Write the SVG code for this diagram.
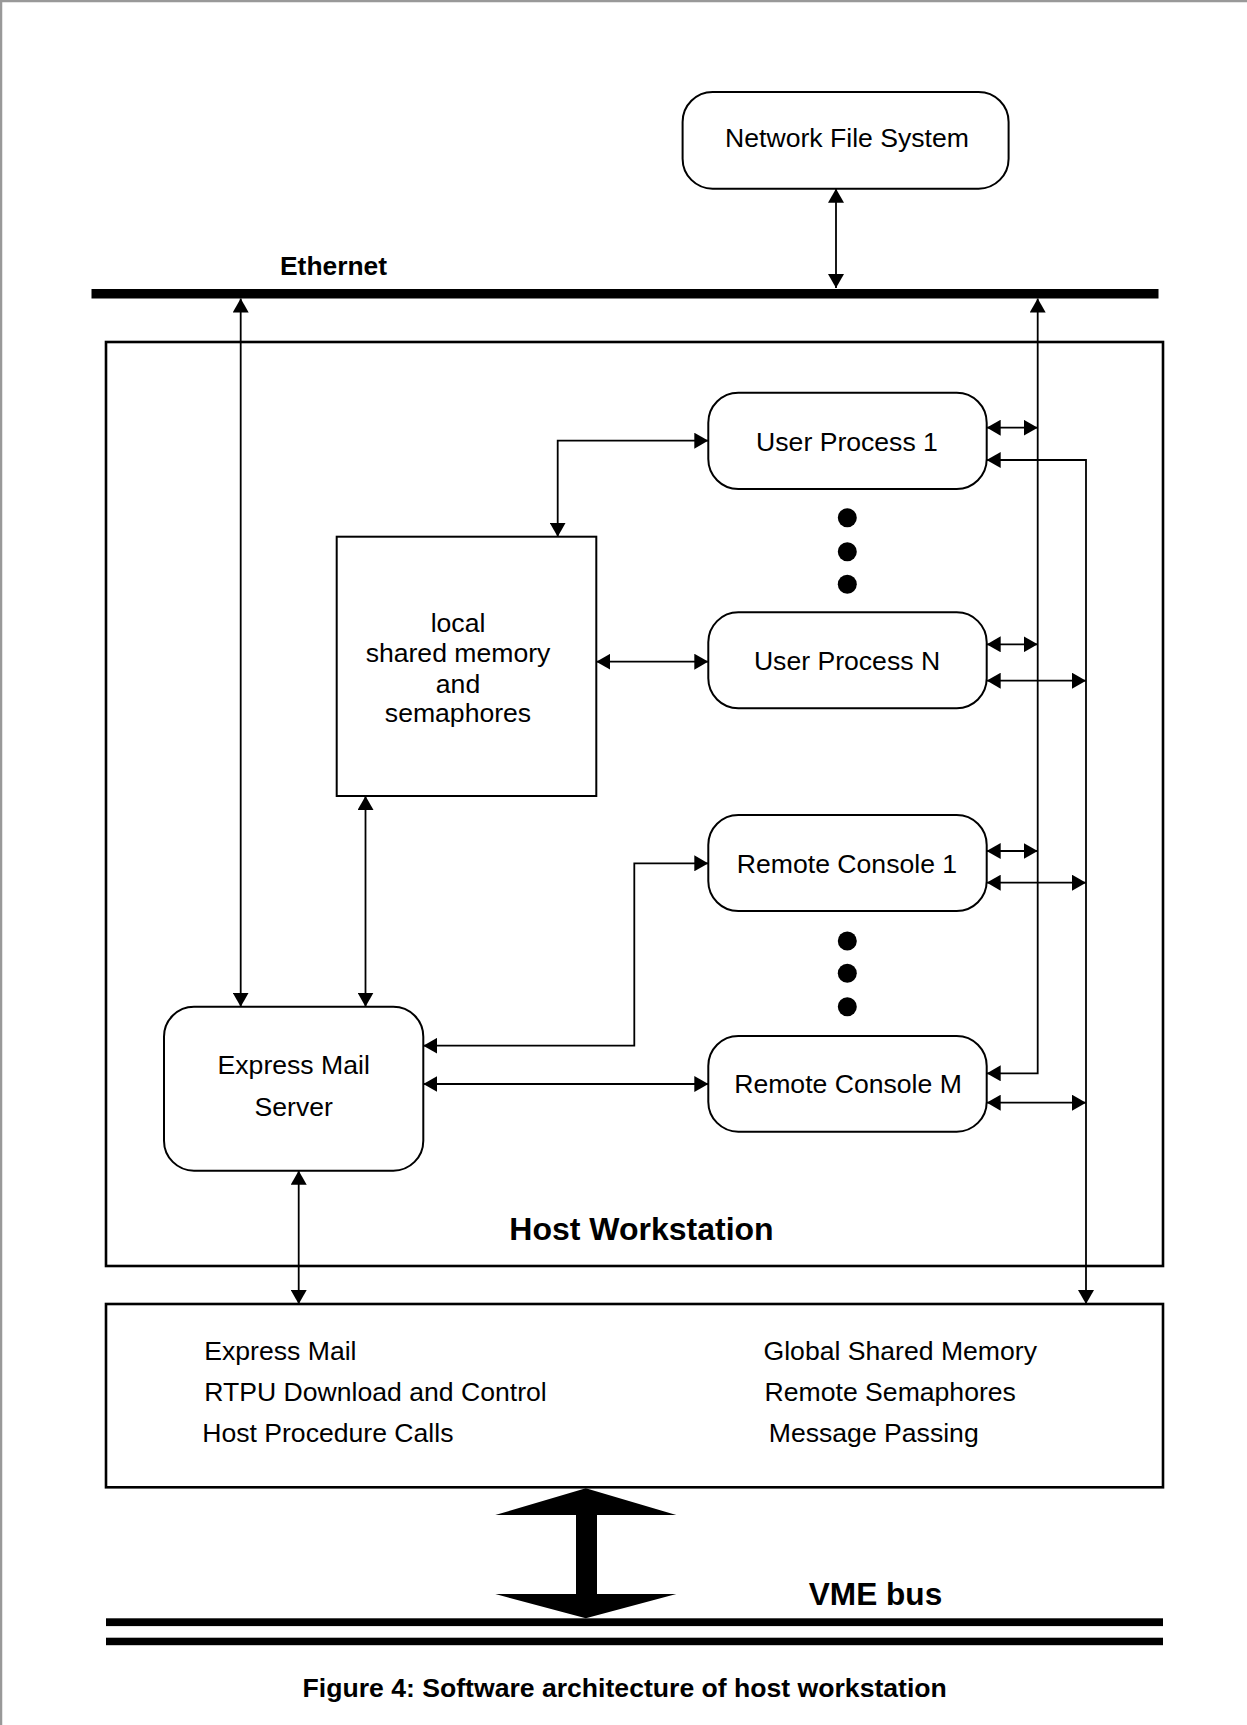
<svg xmlns="http://www.w3.org/2000/svg" width="1247" height="1725" viewBox="0 0 1247 1725">
<style>
text{font-family:"Liberation Sans",Arial,sans-serif;fill:#000}
.t{font-size:26.6px}
.c{text-anchor:middle}
.b{font-weight:bold}
.node{fill:#fff;stroke:#000;stroke-width:2}
.big{fill:none;stroke:#000;stroke-width:2.6}
.conn{fill:none;stroke:#000;stroke-width:1.8;marker-start:url(#ah);marker-end:url(#ah)}
</style>
<defs>
<marker id="ah" markerUnits="userSpaceOnUse" markerWidth="14" markerHeight="16" refX="14" refY="8" orient="auto-start-reverse" viewBox="0 0 14 16">
<path d="M0,0 L14,8 L0,16 z" fill="#000"/>
</marker>
</defs>
<rect width="1247" height="1725" fill="#fff"/>
<path d="M1,1725 V1 H1247" fill="none" stroke="#999" stroke-width="2.5"/>

<g id="ethernet">
<rect x="91.5" y="289" width="1067" height="9.5" fill="#000"/>
<text class="b" style="font-size:26.4px" x="280" y="275">Ethernet</text>
</g>

<g id="nfs">
<rect class="node" x="682.6" y="92" width="326" height="96.7" rx="30" ry="30"/>
<text class="t c" x="847" y="146.7">Network File System</text>
</g>

<g id="host-workstation">
<rect class="big" x="106" y="342" width="1057" height="924"/>
<text class="b c" style="font-size:32px" x="641.5" y="1240">Host Workstation</text>
</g>

<g id="user-process-1">
<rect class="node" x="708.3" y="392.7" width="278.4" height="96.3" rx="30" ry="30"/>
<text class="t c" x="847" y="450.7">User Process 1</text>
</g>

<g id="user-process-n">
<rect class="node" x="708.3" y="612.3" width="278.4" height="96" rx="30" ry="30"/>
<text class="t c" x="847" y="670">User Process N</text>
</g>

<g id="remote-console-1">
<rect class="node" x="708.3" y="815" width="278.4" height="96" rx="30" ry="30"/>
<text class="t c" x="847" y="872.7">Remote Console 1</text>
</g>

<g id="remote-console-m">
<rect class="node" x="708.3" y="1036" width="278.4" height="95.7" rx="30" ry="30"/>
<text class="t c" x="848" y="1093.3">Remote Console M</text>
</g>

<g id="ellipsis" fill="#000">
<circle cx="847.3" cy="517.7" r="9.5"/>
<circle cx="847.3" cy="551.7" r="9.5"/>
<circle cx="847.3" cy="584.3" r="9.5"/>
<circle cx="847.3" cy="941" r="9.5"/>
<circle cx="847.3" cy="973.3" r="9.5"/>
<circle cx="847.3" cy="1006.7" r="9.5"/>
</g>

<g id="local-shared-memory">
<rect class="node" x="336.7" y="536.7" width="259.6" height="259.3"/>
<text class="t c" x="458" y="632.3">local</text>
<text class="t c" x="458" y="661.7">shared memory</text>
<text class="t c" x="458" y="692.7">and</text>
<text class="t c" x="458" y="722.3">semaphores</text>
</g>

<g id="express-mail-server">
<rect class="node" x="164" y="1006.7" width="259.3" height="164" rx="30" ry="30"/>
<text class="t c" x="293.7" y="1074">Express Mail</text>
<text class="t c" x="293.7" y="1116">Server</text>
</g>

<g id="services">
<rect class="big" x="106" y="1304" width="1057" height="183.3" fill="#fff"/>
<text class="t" x="204.3" y="1360">Express Mail</text>
<text class="t" x="204.3" y="1401">RTPU Download and Control</text>
<text class="t" x="202.2" y="1441.7">Host Procedure Calls</text>
<text class="t" x="763.5" y="1360">Global Shared Memory</text>
<text class="t" x="764.6" y="1401">Remote Semaphores</text>
<text class="t" x="768.8" y="1441.7">Message Passing</text>
</g>

<g id="vme-bus">
<rect x="106" y="1618.3" width="1057" height="7.8" fill="#000"/>
<rect x="106" y="1637.7" width="1057" height="7.5" fill="#000"/>
<text class="b" style="font-size:31.6px" x="808.8" y="1605">VME bus</text>
</g>

<g id="connectors">
<path class="conn" d="M836,188.7 V288"/>
<path class="conn" d="M240.7,298.5 V1006.7"/>
<path class="conn" d="M1037.7,298.5 V1073.3 H986.7"/>
<path class="conn" d="M986.7,427.7 H1037.7"/>
<path class="conn" d="M986.7,460 H1086 V1304"/>
<path class="conn" d="M986.7,644.3 H1037.7"/>
<path class="conn" d="M986.7,680.7 H1086"/>
<path class="conn" d="M986.7,851 H1037.7"/>
<path class="conn" d="M986.7,882.7 H1086"/>
<path class="conn" d="M986.7,1102.7 H1086"/>
<path class="conn" d="M557.7,536.7 V440.7 H708.3"/>
<path class="conn" d="M596.3,661.7 H708.3"/>
<path class="conn" d="M365.5,796 V1006.7"/>
<path class="conn" d="M423.3,1045.7 H634.3 V863.3 H708.3"/>
<path class="conn" d="M423.3,1084 H708.3"/>
<path class="conn" d="M298.7,1170.7 V1304"/>
<polygon points="585.8,1488.3 676.3,1515 597,1515 597,1594 676.3,1594 585.8,1618.3 495.3,1594 576,1594 576,1515 495.3,1515" fill="#000"/>
</g>

<text class="b c" style="font-size:26.6px" x="624.7" y="1697.3">Figure 4: Software architecture of host workstation</text>
</svg>
